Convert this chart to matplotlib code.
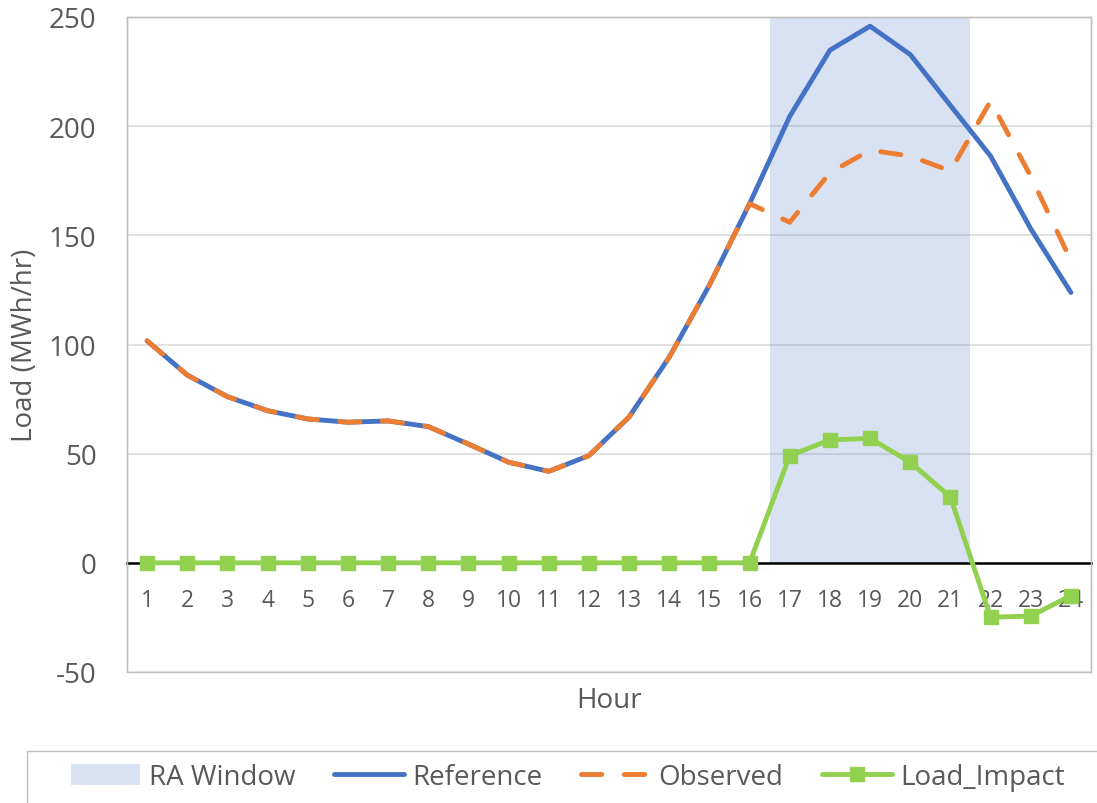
import matplotlib
matplotlib.use("Agg")
import matplotlib.pyplot as plt
from matplotlib.patches import Rectangle

# Estilo general
plt.rcParams.update({'font.family': ['Open Sans', 'DejaVu Sans'], 'text.color': '#595959',
                     'axes.unicode_minus': False})

# Datos
hours = [1, 2, 3, 4, 5, 6, 7, 8, 9, 10, 11, 12, 13, 14, 15, 16, 17, 18, 19, 20, 21, 22, 23, 24]
ra_window = [0, 0, 0, 0, 0, 0, 0, 0, 0, 0, 0, 0, 0, 0, 0, 0, 250, 250, 250, 250, 250, 0, 0, 0]
reference = [101.7, 86.0, 76.1, 69.7, 65.9, 64.4, 65.0, 62.4, 54.4, 46.1, 41.9, 49.1,
             66.8, 94.2, 127.2, 164.5, 204.5, 234.8, 245.8, 232.8, 209.5, 186.3, 153.0, 123.8]
observed = [101.7, 86.0, 76.1, 69.7, 65.9, 64.4, 65.0, 62.4, 54.4, 46.1, 41.9, 49.1,
            66.8, 94.2, 127.2, 164.5, 156.0, 178.7, 189.0, 186.3, 179.5, 211.5, 177.0, 138.5]
load_impact = [0, 0, 0, 0, 0, 0, 0, 0, 0, 0, 0, 0, 0, 0, 0, 0,
               49.1, 56.3, 57.0, 46.1, 30.1, -24.9, -24.4, -15.0]
y_ticks = [-50, 0, 50, 100, 150, 200, 250]

# Colores
BLUE = "#4472C4"
ORANGE = "#ED7D31"
GREEN = "#92D050"
GRID = "#D9D9D9"
FRAME = "#BFBFBF"

fig = plt.figure(figsize=(10.97, 8.04), dpi=100)
ax = fig.add_axes([127 / 1097, 131 / 804, 964 / 1097, 655 / 804])

# Ventana RA como columnas
h_bar = ax.bar(hours, ra_window, width=1.0, color=BLUE, alpha=0.2, lw=0, zorder=1, label='RA Window')

# Curvas
h_ref, = ax.plot(hours, reference, color=BLUE, lw=3.5, solid_capstyle='round',
                 solid_joinstyle='round', zorder=3, label='Reference')
h_obs, = ax.plot(hours, observed, color=ORANGE, lw=3.5, dashes=(4.2, 4.6), dash_capstyle='round',
                 dash_joinstyle='round', zorder=4, label='Observed')
h_li, = ax.plot(hours, load_impact, color=GREEN, lw=3.5, marker='s', ms=10, mec=GREEN,
                solid_capstyle='round', solid_joinstyle='round', zorder=5, label='Load_Impact')

# Ejes
ax.set_xlim(0.5, 24.5)
ax.set_ylim(-50, 250)
ax.set_yticks(y_ticks)
ax.set_xticks(hours)
ax.set_xticklabels([str(h) for h in hours])
ax.grid(axis='y', color=GRID, lw=1.1, zorder=0)
ax.set_axisbelow(True)

for s in ['top', 'left', 'right']:
    ax.spines[s].set_color(FRAME)
    ax.spines[s].set_linewidth(1)
ax.spines['bottom'].set_position(('data', 0))
ax.spines['bottom'].set_color('black')
ax.spines['bottom'].set_linewidth(1.8)
ax.spines['bottom'].set_zorder(2)
ax.patch.set_edgecolor(FRAME)
ax.patch.set_linewidth(1)

ax.tick_params(axis='y', length=0, pad=22, labelsize=20, labelcolor='#595959')
ax.tick_params(axis='x', length=0, pad=18, labelsize=16.5, labelcolor='#595959')

ax.set_ylabel("Load (MWh/hr)", fontsize=20, color='#595959', va='center')
ax.yaxis.set_label_coords(-0.1058, 0.5)
ax.set_xlabel("Hour", fontsize=20, color='#595959', va='center')
ax.xaxis.set_label_coords(0.5, -0.0427)

# Leyenda inferior con marco
fig.legend([h_bar, h_ref, h_obs, h_li], ['RA Window', 'Reference', 'Observed', 'Load_Impact'],
           loc='center left', bbox_to_anchor=(57 / 1097, 26 / 804),
           ncol=4, frameon=False, fontsize=20, borderpad=0, handlelength=2.5, handleheight=0.8,
           handletextpad=0.3, columnspacing=1.4, labelcolor='#595959')
fig.patches.append(Rectangle((27 / 1097, -0.05), 1.0, 52 / 804 + 0.05, transform=fig.transFigure,
                             fill=False, edgecolor=FRAME, lw=1))

fig.savefig('out.png', dpi=100)
